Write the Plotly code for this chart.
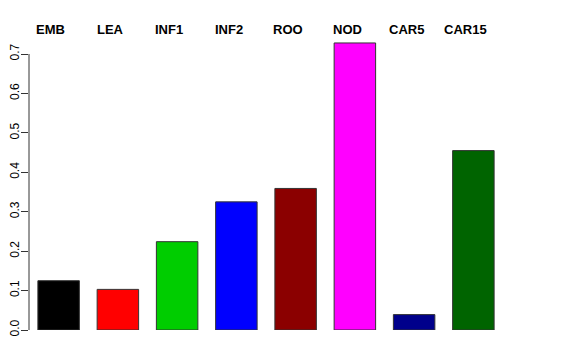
import plotly.graph_objects as go

categories = ["EMB", "LEA", "INF1", "INF2", "ROO", "NOD", "CAR5", "CAR15"]
values = [0.125, 0.103, 0.224, 0.325, 0.359, 0.728, 0.039, 0.455]
colors = ["#000000", "#FF0000", "#00CD00", "#0000FF", "#8B0000", "#FF00FF", "#00008B", "#006400"]
ytick_vals = [0.0, 0.1, 0.2, 0.3, 0.4, 0.5, 0.6, 0.7]
ytick_text = ["0.0", "0.1", "0.2", "0.3", "0.4", "0.5", "0.6", "0.7"]

idx = list(range(len(categories)))

# page body has an 8px margin, so figure coordinates are offset by 8px
OFF = 8
W, H = 576, 360
plot_left, plot_right = 29 - OFF, 503 - OFF
plot_top, plot_bottom = 40 - OFF, 330 - OFF
label_y_px = 30 - OFF

fig = go.Figure()
fig.add_trace(go.Bar(
    x=idx, y=values,
    marker=dict(color=colors, line=dict(color="#333333", width=1)),
    width=0.70,
    hoverinfo="skip",
))

label_y = (plot_bottom - label_y_px) / (plot_bottom - plot_top)
for i, c in zip(idx, categories):
    fig.add_annotation(
        x=i - 0.13, xref="x", y=label_y, yref="paper", yanchor="middle",
        text=f"<b>{c}</b>", showarrow=False,
        font=dict(family="Liberation Sans, Arial, sans-serif", size=13, color="black"),
    )

# R-style axis line only spanning tick range
fig.add_shape(type="line", xref="paper", yref="y", x0=0, x1=0, y0=0, y1=0.7,
              line=dict(color="#333333", width=1))

fig.update_layout(
    width=W, height=H,
    margin=dict(l=plot_left, r=W - plot_right, t=plot_top, b=H - plot_bottom, pad=0),
    plot_bgcolor="white", paper_bgcolor="white",
    showlegend=False,
    font=dict(family="Liberation Sans, Arial, sans-serif", size=12, color="black"),
    xaxis=dict(range=[-0.5, 7.5], showticklabels=False, showgrid=False, zeroline=False,
               showline=False, ticks="", automargin=False),
    yaxis=dict(range=[0, 0.7355], tickvals=ytick_vals, ticktext=ytick_text,
               tickangle=-90, ticks="outside", ticklen=7, tickcolor="#333333",
               ticklabelstandoff=-3,
               showgrid=False, zeroline=False, showline=False, automargin=False,
               tickfont=dict(size=12, family="Liberation Sans, Arial, sans-serif")),
)

fig.write_html("out.html")
